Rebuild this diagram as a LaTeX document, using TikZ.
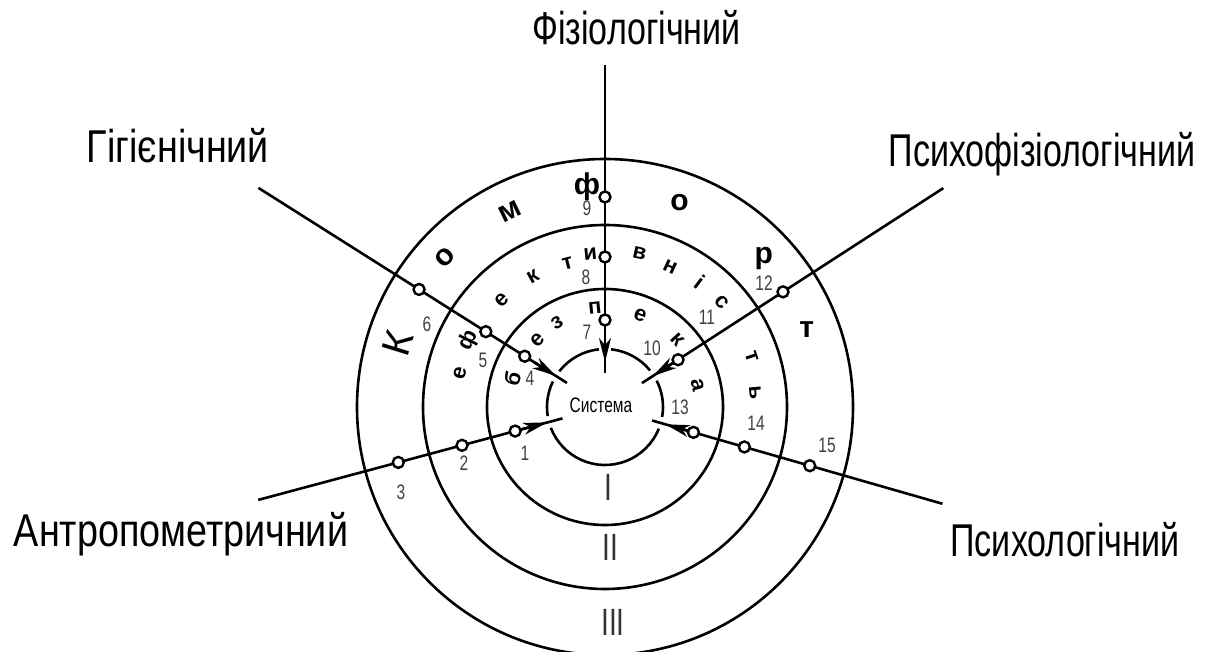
\documentclass[tikz,border=0pt]{standalone}
\usepackage{fontspec}
\setmainfont{Liberation Sans}
\newfontfamily\gost[FakeStretch=0.74]{Liberation Sans}
\newfontfamily\gostw[FakeStretch=0.82]{Liberation Sans}
\usetikzlibrary{arrows.meta,calc}

\begin{document}
\begin{tikzpicture}[x=1pt, y=1pt,
    ring/.style={line width=2.6pt},
    ray/.style={line width=2.6pt},
    tipline/.style={line width=2.6pt, -{Stealth[length=24pt, width=12pt, inset=7pt]}},
    knot/.style={circle, draw, line width=2.4pt, fill=white, inner sep=0pt, minimum size=11pt},
    num/.style={font=\gost\fontsize{21}{21}\selectfont, text=black!75},
    roman/.style={font=\gost\fontsize{38}{38}\selectfont, text=black!80},
    title/.style={font=\gost\fontsize{46}{46}\selectfont, anchor=base},
    big/.style={font=\bfseries\fontsize{30}{30}\selectfont},
    small/.style={font=\bfseries\fontsize{22}{22}\selectfont}
  ]
  \useasboundingbox (-605,-245) rectangle (601,407);

  \foreach \r in {118,182,248}
    \draw[ring] (0,0) circle[radius=\r];
  \foreach \s/\e in {-159/-22, -10/27, 39/84, 96/142, 154/189}
    \draw[ring] (\s:58) arc[start angle=\s, end angle=\e, radius=58];

  \foreach \n/\a/\o/\t/\e in {fiz/90/342/45/34, gig/147.7/410/58/45, psf/32.9/403/57/44, ant/195/359/60/44, psl/-16/351/63/49} {
    \coordinate (\n-out) at (\a:\o);
    \coordinate (\n-end) at (\a:\e);
    \coordinate (\n-tip) at (\a:\t);
    \coordinate (\n-back) at (\a:{\t+26});
    \draw[ray] (\n-out) -- (\n-end);
    \draw[tipline] (\n-back) -- (\n-tip);
  }

  \foreach \a/\r [count=\i] in {195/93, 195/148, 195/214, 147.7/95, 147.7/141, 147.7/220,
      90/87, 90/150, 90/210, 32.9/87, 32.9/212, -16/92, -16/145, -16/213}
    \node[knot] (k\i) at (\a:\r) {};

  \foreach \x/\y [count=\i] in {-80/-46, -141/-56, -204/-85, -75/29, -122/47, -178/83,
      -18/75, -19/130, -18/199, 47/59, 102/90, 159/124, 75/0, 151/-16, 222/-38}
    \node[num] (n\i) at (\x,\y) {\i};

  \node[font=\gost\fontsize{21}{21}\selectfont] (sys) at (-4,1.5) {Система};
  \node[roman] (r1) at (3,-80) {I};
  \node[roman] (r2) at (5,-140) {II};
  \node[roman] (r3) at (8,-215) {III};

  \node[big, font=\fontsize{40}{40}\selectfont] (kom0) at (162.8:217) [rotate=72.8] {К};
  \foreach \ch/\a/\r/\t [count=\i] in {о/137/219/47, м/116/217/26, ф/94.7/221/0, о/70/218/0, р/43/217/0, т/21/216/0}
    \node[big, rotate=\t] (kom\i) at (\a:\r) {\ch};

  \foreach \ch/\a/\r [count=\i] in {е/166.8/149, ф/153.8/152, е/133.9/149, к/119/149, т/104.6/148, и/95.5/154,
      в/77.4/158, н/65/154, і/53/157, с/42/157, т/18.8/155, ь/5.3/151}
    \node[small, rotate=\a-90] (ef\i) at (\a:\r) {\ch};

  \foreach \ch/\a/\r [count=\i] in {б/162.7/97, е/135/95, з/119.7/97, п/95.8/99, е/69/98, к/42.5/99, а/13.4/95}
    \node[small, rotate=\a-90] (bz\i) at (\a:\r) {\ch};

  \node[title] (fiz) at (31.5,362) {Фізіологічний};
  \node[title, font=\gostw\fontsize{46}{46}\selectfont] (gig) at (-427,244) {Гігієнічний};
  \node[title] (psf) at (437,240) {Психофізіологічний};
  \node[title, font=\gostw\fontsize{46}{46}\selectfont] (ant) at (-424,-140) {Антропометричний};
  \node[title] (psl) at (460,-150) {Психологічний};
\end{tikzpicture}
\end{document}
